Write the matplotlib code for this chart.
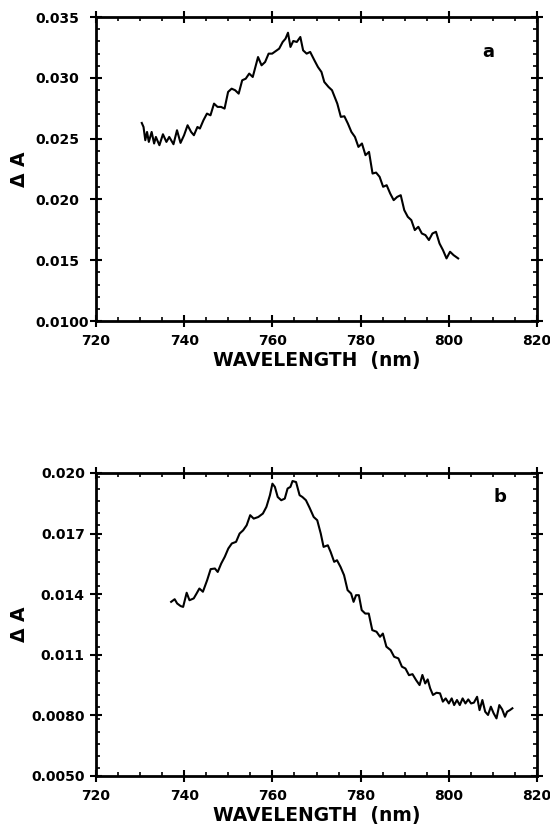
import numpy as np
import matplotlib
matplotlib.use('Agg')
import matplotlib.pyplot as plt
from matplotlib.ticker import FixedLocator, MultipleLocator

plt.rcParams['font.family'] = ['DejaVu Sans']
plt.rcParams['font.weight'] = 'bold'

# panel a
wl_a = [730.38, 730.78, 731.18, 731.58, 731.98, 732.62, 733.18, 733.58, 734.38, 735.18,
        735.97, 736.61, 737.57, 738.37, 739.17, 739.97, 740.77, 741.57, 742.2, 743.0,
        743.56, 744.36, 745.16, 745.96, 746.76, 747.56, 748.35, 749.15, 749.95, 750.75,
        751.55, 752.35, 753.15, 753.95, 754.74, 755.54, 756.74, 757.54, 758.34, 759.14,
        759.94, 761.53, 762.33, 762.97, 763.53, 764.09, 764.73, 765.53, 766.33, 766.96,
        767.76, 768.56, 769.52, 770.32, 771.12, 771.76, 772.72, 773.51, 774.71, 775.51,
        776.31, 777.11, 777.91, 778.71, 779.5, 780.3, 781.1, 781.9, 782.7, 783.5,
        784.3, 785.1, 785.9, 786.7, 787.49, 788.29, 789.09, 789.89, 790.69, 791.49,
        792.28, 793.08, 793.88, 794.68, 795.48, 796.28, 797.08, 797.88, 798.67, 799.47,
        800.27, 801.07, 802.11]
dA_a = [0.02629, 0.02596, 0.02487, 0.02555, 0.02473, 0.02555, 0.0246, 0.02514, 0.02446, 0.02536,
        0.02473, 0.02514, 0.02454, 0.02569, 0.02465, 0.02528, 0.0261, 0.02555, 0.02528, 0.02596,
        0.02583, 0.02651, 0.02706, 0.02692, 0.02788, 0.02761, 0.02761, 0.02747, 0.02884, 0.02911,
        0.02898, 0.0287, 0.0298, 0.02993, 0.03035, 0.03007, 0.03171, 0.03103, 0.0313, 0.03199,
        0.03199, 0.0324, 0.03295, 0.03322, 0.03371, 0.03254, 0.03303, 0.03295, 0.03336, 0.03226,
        0.03199, 0.03213, 0.03144, 0.03089, 0.03048, 0.02966, 0.02925, 0.02898, 0.02788, 0.02679,
        0.02684, 0.02624, 0.02555, 0.02514, 0.02432, 0.0246, 0.02364, 0.02391, 0.02213, 0.02221,
        0.02186, 0.02104, 0.02117, 0.02049, 0.01994, 0.02021, 0.02035, 0.01912, 0.01857, 0.0183,
        0.01748, 0.01775, 0.0172, 0.01707, 0.01666, 0.0172, 0.01734, 0.01638, 0.01583, 0.01515,
        0.0157, 0.01542, 0.01515]

# panel b
wl_b = [737.04, 737.84, 738.4, 739.2, 739.76, 740.56, 741.2, 742.16, 742.8, 743.44,
        744.24, 745.2, 746.0, 746.96, 747.6, 748.4, 749.2, 750.0, 750.8, 751.76,
        752.56, 753.36, 754.16, 754.96, 755.76, 756.8, 757.84, 758.64, 759.44, 760.0,
        760.56, 761.2, 762.0, 762.8, 763.44, 764.08, 764.56, 765.36, 766.16, 766.8,
        767.6, 768.4, 769.36, 770.16, 770.96, 771.6, 772.56, 773.2, 774.0, 774.64,
        775.44, 776.24, 777.04, 777.84, 778.4, 778.96, 779.6, 780.24, 781.04, 781.84,
        782.64, 783.6, 784.4, 785.04, 785.84, 786.8, 787.6, 788.56, 789.36, 790.16,
        790.96, 791.76, 792.56, 793.36, 794.0, 794.64, 795.2, 795.76, 796.4, 797.2,
        798.0, 798.64, 799.28, 800.0, 800.64, 801.2, 801.84, 802.48, 803.12, 803.76,
        804.4, 805.04, 805.68, 806.4, 806.96, 807.6, 808.24, 808.88, 809.52, 810.16,
        810.8, 811.44, 812.08, 812.72, 813.2, 813.84, 814.4]
dA_b = [0.01362, 0.01375, 0.01354, 0.01341, 0.01337, 0.01407, 0.0137, 0.01379, 0.01403, 0.01428,
        0.01412, 0.01469, 0.01524, 0.01527, 0.0151, 0.01552, 0.01585, 0.01626, 0.01651, 0.01659,
        0.017, 0.01716, 0.01741, 0.01791, 0.01774, 0.01782, 0.01799, 0.01832, 0.0189, 0.01947,
        0.01931, 0.01881, 0.01865, 0.01873, 0.01923, 0.01931, 0.0196, 0.01955, 0.0189, 0.01881,
        0.01865, 0.01829, 0.01782, 0.01766, 0.017, 0.01634, 0.01642, 0.01609, 0.0156, 0.01568,
        0.01535, 0.01494, 0.0142, 0.01403, 0.01362, 0.01395, 0.01395, 0.01321, 0.01304, 0.01304,
        0.01222, 0.01214, 0.01189, 0.01205, 0.0114, 0.01123, 0.0109, 0.01082, 0.01041, 0.01032,
        0.00999, 0.01004, 0.00975, 0.0095, 0.01, 0.00958, 0.00978, 0.00934, 0.00901, 0.00912,
        0.00909, 0.00868, 0.00884, 0.00859, 0.00884, 0.00851, 0.00876, 0.00851, 0.00884, 0.00859,
        0.00879, 0.00859, 0.00863, 0.00892, 0.00826, 0.00876, 0.00818, 0.00802, 0.00843, 0.0081,
        0.00785, 0.00851, 0.0083, 0.00793, 0.00818, 0.00826, 0.00835]

xticks = [720, 740, 760, 780, 800, 820]
yticks_a = [0.010, 0.015, 0.020, 0.025, 0.030, 0.035]
ylabels_a = ['0.0100', '0.015', '0.020', '0.025', '0.030', '0.035']
yticks_b = [0.005, 0.008, 0.011, 0.014, 0.017, 0.020]
ylabels_b = ['0.0050', '0.0080', '0.011', '0.014', '0.017', '0.020']

fig = plt.figure(figsize=(5.5, 8.27), dpi=100)
ax1 = fig.add_axes([0.1745, 0.6118, 0.802, 0.3676])
ax2 = fig.add_axes([0.1745, 0.0617, 0.802, 0.3664])


def style(ax, yt, yl, ymin, ymax, yminor, letter, lx, ly, left_align):
    ax.set_xlim(720, 820)
    ax.set_ylim(ymin, ymax)
    ax.xaxis.set_major_locator(FixedLocator(xticks))
    ax.xaxis.set_minor_locator(MultipleLocator(5))
    ax.yaxis.set_major_locator(FixedLocator(yt))
    ax.yaxis.set_minor_locator(MultipleLocator(yminor))
    ax.set_yticklabels(yl, fontsize=10)
    ax.set_xticklabels([str(v) for v in xticks], fontsize=10)
    ax.tick_params(which='major', direction='inout', length=8, width=1.5,
                   top=True, right=True)
    ax.tick_params(axis='x', which='major', pad=5.5)
    if left_align:
        ax.tick_params(axis='y', which='major', pad=39.5)
        for t in ax.get_yticklabels():
            t.set_horizontalalignment('left')
    else:
        ax.tick_params(axis='y', which='major', pad=4)
    ax.tick_params(which='minor', direction='in', length=3, width=1.2,
                   top=True, right=True)
    for s in ax.spines.values():
        s.set_linewidth(2)
    ax.set_xlabel('WAVELENGTH  (nm)', fontsize=13.5, fontweight='bold', labelpad=2)
    ax.set_ylabel('Δ A', fontsize=13.5, fontweight='bold')
    ax.yaxis.set_label_coords(-0.152, 0.5)
    ax.text(lx, ly, letter, transform=ax.transAxes, fontsize=13,
            fontweight='bold', ha='center', va='center')


ax1.plot(wl_a, dA_a, color='black', linewidth=1.5)
style(ax1, yticks_a, ylabels_a, 0.010, 0.035, 0.001, 'a', 0.889, 0.885, True)
ax2.plot(wl_b, dA_b, color='black', linewidth=1.5)
style(ax2, yticks_b, ylabels_b, 0.005, 0.020, 0.0006, 'b', 0.916, 0.921, False)

fig.savefig('out.png', dpi=100)
